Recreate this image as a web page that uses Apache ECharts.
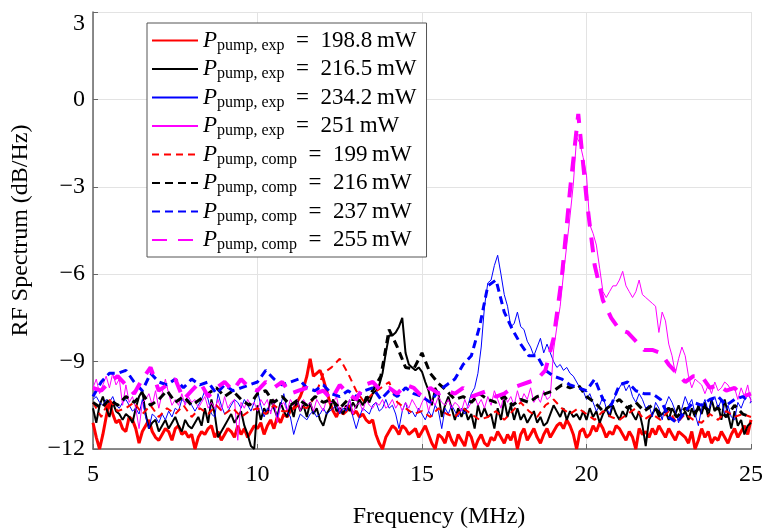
<!DOCTYPE html>
<html><head><meta charset="utf-8">
<script src="https://cdn.jsdelivr.net/npm/echarts@6/dist/echarts.min.js"></script>
<style>html,body{margin:0;padding:0;background:#fff}#c{width:764px;height:529px}</style>
</head><body><div id="c"></div>
<script>
// Frequency grids (MHz)
const freqExp = Array.from({length: 201}, (_, i) => +(5 + i * 0.1).toFixed(2));
const freqComp = Array.from({length: 81}, (_, i) => +(5 + i * 0.25).toFixed(2));

const xTicks = [5, 10, 15, 20, 25];
const yTicks = [-12, -9, -6, -3, 0, 3];

// Experimental spectra (dB/Hz), step 0.1 MHz
const exp198_8 = [
-11.1,-11.6,-12.0,-11.5,-10.9,-10.4,-10.8,-11.1,-11.0,-11.3,
-11.4,-10.9,-11.0,-11.3,-11.8,-11.4,-11.2,-11.0,-11.4,-11.6,
-11.7,-11.5,-11.3,-11.4,-11.7,-11.3,-11.2,-11.5,-11.4,-11.6,
-11.5,-12.0,-11.6,-11.4,-11.5,-11.3,-11.2,-11.6,-11.4,-11.7,
-11.5,-11.3,-11.4,-11.6,-11.2,-11.5,-11.3,-11.6,-11.4,-11.2,
-11.3,-11.1,-11.5,-11.2,-11.0,-11.3,-10.9,-11.1,-10.8,-10.9,
-10.7,-10.6,-10.4,-10.2,-9.9,-9.5,-8.9,-9.5,-9.4,-9.3,
-9.6,-10.0,-10.4,-10.7,-10.9,-10.6,-10.8,-10.7,-10.5,-10.8,
-10.7,-10.9,-10.8,-11.0,-11.1,-11.0,-11.5,-11.8,-12.0,-11.6,
-11.4,-11.2,-11.3,-11.5,-11.2,-11.3,-11.5,-11.4,-11.3,-11.6,
-11.4,-11.2,-11.5,-11.8,-12.0,-11.5,-11.6,-11.8,-11.4,-11.7,
-11.9,-11.5,-11.7,-11.9,-11.4,-11.6,-12.0,-11.7,-11.5,-11.8,
-11.9,-11.6,-11.7,-11.4,-11.6,-11.8,-11.5,-11.7,-11.4,-12.0,
-11.5,-11.3,-11.7,-11.5,-11.3,-11.6,-11.8,-11.5,-11.3,-11.6,
-11.4,-11.2,-11.1,-11.3,-11.0,-11.2,-11.5,-12.0,-11.4,-11.3,
-11.6,-11.5,-11.2,-11.4,-11.1,-11.3,-11.6,-11.4,-11.5,-11.2,
-11.3,-11.5,-11.7,-11.4,-11.6,-12.0,-11.3,-11.5,-11.4,-11.6,
-11.3,-11.5,-11.2,-11.4,-11.6,-11.3,-11.5,-11.7,-11.4,-11.5,
-11.6,-11.8,-11.4,-12.0,-11.7,-11.3,-11.6,-11.4,-11.8,-11.6,
-11.7,-11.4,-11.6,-11.8,-11.5,-11.3,-11.6,-11.4,-11.2,-11.5,
-11.0];
const exp216_5 = [
-10.6,-11.1,-10.5,-10.2,-10.6,-10.9,-10.4,-10.7,-10.8,-11.0,
-10.8,-10.9,-11.1,-10.6,-10.2,-10.0,-10.8,-11.3,-11.1,-11.0,
-11.4,-11.2,-11.0,-11.3,-11.1,-10.9,-11.2,-11.4,-11.0,-11.2,
-11.3,-11.1,-10.9,-11.2,-10.6,-11.1,-10.3,-10.8,-11.6,-11.4,
-11.2,-11.0,-10.8,-11.1,-10.9,-10.7,-11.2,-11.5,-11.9,-12.0,
-10.5,-11.0,-10.6,-10.8,-10.3,-10.6,-10.9,-10.4,-10.7,-10.9,
-10.5,-10.9,-10.3,-10.7,-10.5,-10.9,-10.4,-10.8,-10.6,-11.0,
-11.2,-10.8,-10.6,-10.3,-10.7,-10.6,-10.8,-10.5,-10.7,-10.4,
-10.6,-10.3,-10.5,-10.2,-10.4,-10.1,-10.0,-9.8,-9.4,-8.7,
-8.1,-8.1,-8.0,-7.8,-7.5,-8.7,-9.1,-9.2,-9.3,-9.2,
-9.35,-9.7,-10.0,-10.5,-9.9,-10.1,-10.9,-10.5,-10.2,-10.6,
-11.0,-10.6,-10.9,-10.6,-11.0,-10.8,-11.3,-10.5,-10.9,-10.6,
-10.9,-10.8,-11.3,-10.6,-11.0,-10.3,-10.9,-10.5,-11.0,-10.6,
-11.0,-10.8,-11.1,-10.9,-10.7,-11.1,-10.9,-11.2,-11.1,-10.8,
-10.5,-10.7,-10.9,-10.6,-11.0,-10.7,-10.9,-10.8,-11.0,-10.7,
-11.0,-10.6,-10.9,-10.7,-11.1,-10.8,-10.6,-10.9,-10.5,-10.8,
-11.0,-10.7,-10.9,-10.5,-10.8,-11.0,-10.7,-11.2,-11.9,-11.0,
-10.8,-10.6,-10.9,-10.8,-10.7,-11.0,-10.6,-10.8,-10.5,-10.9,
-10.7,-11.0,-10.6,-10.9,-10.5,-10.8,-10.4,-10.9,-10.3,-10.7,
-10.5,-11.0,-10.3,-10.8,-11.3,-10.7,-11.2,-11.0,-11.5,-11.2,
-11.1];
const exp234_2 = [
-10.3,-10.2,-10.4,-10.5,-10.3,-10.4,-10.2,-10.5,-10.6,-10.4,
-10.3,-10.5,-10.7,-10.6,-10.8,-10.3,-10.9,-11.3,-10.8,-10.9,
-11.1,-10.8,-11.0,-10.7,-10.9,-10.6,-10.7,-10.3,-10.4,-10.3,
-10.5,-10.7,-10.5,-10.3,-10.0,-10.3,-10.8,-10.9,-10.1,-10.5,
-10.8,-10.7,-10.5,-10.3,-10.4,-10.6,-10.3,-10.5,-10.7,-10.4,
-10.0,-10.5,-10.9,-10.6,-10.7,-10.5,-10.9,-10.5,-10.1,-10.7,
-10.9,-11.5,-11.1,-10.8,-10.9,-11.0,-10.8,-10.7,-10.9,-10.8,
-10.6,-10.8,-10.7,-10.6,-10.5,-10.8,-10.6,-10.7,-10.3,-10.9,
-11.3,-10.9,-10.6,-10.7,-10.8,-10.5,-10.4,-10.7,-10.6,-10.3,
-10.6,-10.5,-10.8,-11.3,-10.7,-10.4,-10.8,-10.7,-10.9,-10.6,
-10.8,-11.0,-10.7,-10.9,-10.5,-10.7,-11.3,-10.6,-10.8,-10.5,
-10.7,-10.9,-10.6,-10.8,-10.5,-10.1,-9.9,-9.4,-8.5,-7.1,
-6.3,-6.2,-5.7,-5.35,-6.0,-6.7,-7.1,-7.8,-7.7,-7.3,
-7.8,-7.9,-8.3,-8.5,-8.8,-8.5,-8.2,-8.7,-8.4,-8.7,
-9.0,-9.2,-9.1,-9.3,-9.2,-9.4,-9.5,-9.7,-9.9,-10.0,
-10.3,-10.1,-10.4,-10.7,-10.5,-10.2,-10.6,-10.8,-10.4,-10.1,
-9.9,-9.7,-10.0,-9.8,-10.2,-10.4,-10.1,-10.3,-10.6,-10.5,
-10.9,-10.4,-10.6,-11.0,-10.5,-10.2,-10.4,-10.7,-11.1,-10.6,
-10.2,-10.5,-10.3,-10.8,-11.2,-10.6,-10.3,-10.7,-10.4,-10.2,
-10.6,-10.3,-10.8,-10.5,-10.9,-11.0,-10.4,-10.6,-10.3,-10.1,
-10.3];
const exp251 = [
-9.9,-9.6,-10.1,-9.8,-9.5,-9.9,-9.4,-9.8,-9.6,-10.5,
-9.8,-10.4,-10.2,-10.6,-11.3,-10.4,-10.3,-10.1,-10.5,-10.0,
-10.6,-10.1,-9.6,-10.1,-10.5,-10.3,-10.5,-10.1,-10.5,-10.2,
-10.4,-10.3,-10.6,-10.4,-10.2,-10.6,-10.4,-10.6,-10.3,-10.7,
-10.2,-10.6,-10.4,-10.3,-11.7,-10.4,-10.6,-10.3,-10.5,-10.4,
-10.7,-10.3,-10.5,-10.3,-10.8,-10.3,-11.1,-10.5,-10.4,-10.7,
-10.3,-10.5,-10.3,-10.7,-10.3,-10.5,-10.4,-10.7,-10.3,-10.5,
-10.7,-10.3,-10.4,-10.4,-10.2,-10.7,-10.5,-10.6,-10.3,-10.8,
-10.5,-10.4,-10.7,-10.3,-10.5,-10.6,-10.4,-10.5,-10.3,-10.6,
-10.5,-10.3,-10.6,-10.4,-10.7,-10.4,-10.6,-10.3,-10.5,-10.7,
-10.4,-10.2,-10.7,-10.3,-10.5,-10.2,-10.4,-10.5,-10.3,-10.6,
-10.4,-10.5,-10.7,-10.3,-10.6,-10.4,-10.2,-10.5,-10.3,-10.6,
-10.2,-10.5,-10.0,-10.3,-10.6,-10.1,-10.4,-10.2,-10.5,-10.0,
-10.4,-10.1,-10.3,-9.9,-10.4,-10.2,-10.4,-10.0,-10.3,-10.2,
-8.6,-7.8,-7.1,-6.0,-5.0,-4.0,-2.9,-1.3,-1.5,-2.0,
-2.6,-4.3,-4.6,-5.0,-5.8,-6.6,-6.8,-6.6,-6.4,-6.4,
-6.2,-5.9,-6.4,-6.6,-6.8,-6.6,-6.2,-6.7,-6.8,-6.9,
-7.0,-7.1,-8.0,-7.3,-7.6,-8.4,-8.8,-9.4,-8.9,-8.5,
-8.8,-9.5,-9.9,-9.6,-9.7,-9.8,-10.1,-9.8,-10.1,-9.7,
-10.0,-9.9,-9.7,-9.8,-10.0,-9.9,-10.3,-9.9,-10.2,-9.8,
-10.4];

// Computed spectra (dB/Hz), step 0.25 MHz
const comp199 = [
-10.4,-10.9,-10.3,-10.7, -10.6,-10.4,-10.8,-10.5, -10.9,-10.6,-10.8,-10.5,
-10.9,-10.6,-10.8,-10.5, -10.8,-10.6,-10.9,-10.7, -10.6,-10.8,-10.5,-10.7,
-10.7,-10.5,-10.6,-10.2, -9.4,-9.2,-8.9,-9.4, -10.0,-10.4,-10.1,-9.9,
-9.7,-10.4,-10.6,-10.8, -10.7,-10.9,-10.6,-10.8, -10.9,-10.6,-10.8,-11.0,
-10.9,-10.7,-11.0,-10.7, -10.4,-10.7,-10.9,-10.5, -10.3,-10.6,-10.8,-10.6,
-10.8,-11.0,-10.7,-10.9, -11.0,-10.8,-10.6,-11.0, -10.8,-11.0,-10.7,-11.1,
-10.8,-11.0,-11.1,-10.8, -11.0,-10.7,-10.9,-10.8, -10.9];
const comp216 = [
-10.4,-10.6,-10.3,-10.5, -10.2,-10.4,-10.1,-10.5, -10.3,-10.0,-10.4,-10.2,
-10.5,-10.3,-10.1,-9.9, -10.2,-10.0,-10.3,-10.5, -10.1,-10.0,-10.4,-10.2,
-10.5,-10.3,-10.5,-10.2, -10.4,-10.3,-10.6,-10.3, -10.3,-10.4,-10.0,-9.5,
-7.9,-8.5,-9.2,-9.25, -8.7,-9.4,-9.75,-10.0, -10.3,-10.2,-10.4,-10.1,
-10.3,-10.4,-10.2,-10.5, -10.3,-10.4,-10.2,-10.1, -10.0,-9.8,-9.9,-9.8,
-10.2,-10.4,-10.7,-10.5, -10.3,-10.6,-10.4,-10.7, -10.5,-10.8,-10.6,-10.9,
-10.6,-10.8,-10.5,-10.7, -10.6,-10.9,-10.5,-10.8, -10.9];
const comp237 = [
-10.2,-9.7,-9.4,-9.4, -9.3,-9.7,-10.0,-9.4, -9.7,-9.8,-9.6,-9.9,
-9.6,-9.8,-9.7,-10.1, -9.8,-10.0,-9.9,-9.8, -9.7,-9.3,-9.6,-9.8,
-9.7,-9.6,-9.9,-10.0, -9.8,-10.1,-10.2,-10.0, -10.2,-10.0,-9.9,-10.3,
-10.0,-10.2,-9.9,-10.1, -10.2,-10.4,-10.0,-9.8, -9.6,-9.1,-8.8,-7.8,
-6.4,-6.2,-7.3,-7.9, -8.4,-8.8,-8.8,-9.3, -9.5,-9.6,-9.8,-9.9,
-10.0,-9.6,-10.3,-10.5, -9.8,-9.7,-10.0,-10.1, -10.1,-10.3,-10.9,-11.1,
-10.7,-10.4,-10.5,-10.3, -10.2,-10.5,-10.3,-10.2, -10.4];
const comp255 = [
-9.9,-10.0,-9.7,-9.5, -9.8,-10.1,-9.6,-9.2, -10.0,-9.8,-9.6,-10.3,
-10.0,-9.7,-10.2,-9.9, -9.7,-10.0,-9.6,-9.9, -10.0,-9.7,-9.9,-9.7,
-10.1,-10.0,-9.9,-10.1, -10.0,-10.3,-9.8,-10.1, -10.3,-9.8,-9.7,-10.0,
-9.9,-10.1,-9.8,-9.9, -10.2,-9.9,-10.1,-10.0, -10.1,-9.9,-10.2,-10.1,
-10.0,-10.2,-10.1,-9.9, -9.8,-9.7,-9.6,-9.3, -8.2,-6.1,-3.1,-0.5,
-3.4,-5.7,-6.9,-7.5, -7.9,-8.0,-8.3,-8.6, -8.6,-8.7,-9.1,-9.4,
-9.7,-9.5,-9.5,-9.9, -9.8,-10.0,-9.9,-10.2, -10.1];

const FONT = '"Liberation Serif", "DejaVu Serif", serif';
const pairs = (xs, ys) => xs.map((x, i) => [x, ys[i]]);
const minus = v => (v < 0 ? '\u2212' + Math.abs(v) : String(v));

const seriesDefs = [
  {name: 'e1', sub: 'pump, exp', val: '198.8', x: freqExp, y: exp198_8, color: '#ff0000', width: 3, type: 'solid'},
  {name: 'e2', sub: 'pump, exp', val: '216.5', x: freqExp, y: exp216_5, color: '#000000', width: 2, type: 'solid'},
  {name: 'e3', sub: 'pump, exp', val: '234.2', x: freqExp, y: exp234_2, color: '#0000ff', width: 1, type: 'solid'},
  {name: 'e4', sub: 'pump, exp', val: '251', x: freqExp, y: exp251, color: '#ff00ff', width: 1, type: 'solid'},
  {name: 'c1', sub: 'pump, comp', val: '199', x: freqComp, y: comp199, color: '#ff0000', width: 2, type: [7, 5]},
  {name: 'c2', sub: 'pump, comp', val: '216', x: freqComp, y: comp216, color: '#000000', width: 3, type: [8, 5]},
  {name: 'c3', sub: 'pump, comp', val: '237', x: freqComp, y: comp237, color: '#0000ff', width: 3, type: [8, 5]},
  {name: 'c4', sub: 'pump, comp', val: '255', x: freqComp, y: comp255, color: '#ff00ff', width: 4, type: [15, 11]}
];
const labelMap = {};
seriesDefs.forEach(s => { labelMap[s.name] = '{p|P}{s|' + s.sub + '}{t|\u2002=\u2002' + s.val + '\u2009mW}'; });

const chart = echarts.init(document.getElementById('c'), null, {renderer: 'canvas'});
chart.setOption({
  animation: false,
  backgroundColor: '#fff',
  grid: {left: 93, right: 13, top: 12, bottom: 80, containLabel: false, outerBoundsMode: 'none'},
  xAxis: {
    type: 'value', min: 5, max: 25, interval: 5,
    name: 'Frequency (MHz)', nameLocation: 'middle', nameGap: 56,
    nameTextStyle: {fontFamily: FONT, fontSize: 24, color: '#000', padding: [0, 0, 0, 34]},
    axisLine: {onZero: false, lineStyle: {color: '#666', width: 1.5}},
    axisTick: {inside: true, length: 5, lineStyle: {color: '#666'}},
    axisLabel: {fontFamily: FONT, fontSize: 24, color: '#000', margin: 14, formatter: v => xTicks.includes(v) ? String(v) : ''},
    splitLine: {show: true, lineStyle: {color: '#e3e3e3', width: 1}}
  },
  yAxis: {
    type: 'value', min: -12, max: 3, interval: 3,
    name: 'RF Spectrum (dB/Hz)', nameLocation: 'middle', nameGap: 60, nameRotate: 90,
    nameTextStyle: {fontFamily: FONT, fontSize: 24, color: '#000'},
    axisLine: {show: true, lineStyle: {color: '#666', width: 1.5}},
    axisTick: {show: true, inside: true, length: 5, lineStyle: {color: '#666'}},
    axisLabel: {
      fontFamily: FONT, fontSize: 24, color: '#000', margin: 8,
      formatter: v => yTicks.includes(v) ? (v === 3 ? '{top|3}' : minus(v)) : '',
      rich: {top: {fontFamily: FONT, fontSize: 24, color: '#000', padding: [24, 0, 0, 0]}}
    },
    splitLine: {show: true, lineStyle: {color: '#e3e3e3', width: 1}}
  },
  legend: {
    orient: 'vertical', left: 147, top: 23,
    padding: [6, 10, 4, 4], itemGap: 4, itemWidth: 46, itemHeight: 14,
    backgroundColor: '#fff', borderColor: '#555', borderWidth: 1,
    selectedMode: false,
    itemStyle: {opacity: 0, color: 'rgba(0,0,0,0)', borderWidth: 0},
    data: seriesDefs.map(s => s.name),
    formatter: name => labelMap[name],
    textStyle: {
      fontFamily: FONT, color: '#000', fontSize: 23,
      rich: {
        p: {fontFamily: FONT, fontStyle: 'italic', fontSize: 23, lineHeight: 26, color: '#000'},
        s: {fontFamily: FONT, fontSize: 16, lineHeight: 12, verticalAlign: 'bottom', color: '#000'},
        t: {fontFamily: FONT, fontSize: 23, lineHeight: 26, color: '#000'}
      }
    }
  },
  series: seriesDefs.map(s => ({
    name: s.name, type: 'line', symbol: 'none', showSymbol: false, clip: true,
    data: pairs(s.x, s.y),
    lineStyle: {color: s.color, width: s.width, type: s.type},
    itemStyle: {color: s.color},
    emphasis: {disabled: true}
  }))
});
</script></body></html>
